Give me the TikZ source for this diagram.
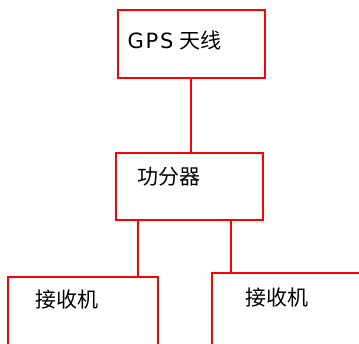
\documentclass[tikz,border=0pt]{standalone}
\usepackage{fontspec}
\setmainfont{Noto Sans CJK SC}
\newfontfamily\latinfont[LetterSpace=8]{DejaVu Sans}
\usetikzlibrary{positioning}
\begin{document}
\begin{tikzpicture}[x=1pt, y=-1pt, thick]
\tikzset{box/.style={rectangle, draw=red, line width=1.2pt, inner sep=0pt},
         wire/.style={draw=red, line width=1.2pt},
         lbl/.style={draw=none, anchor=west, font=\fontsize{21}{23}\selectfont}}
\useasboundingbox (0,0) rectangle (359,343);
\clip (0,0) rectangle (359,343);
%%%%%%%%%%%%%%%%%%%%%%%%%%%%%%% antenna and splitter
\node[box, minimum width=147pt, minimum height=68pt](ant) at (191.5,44){};
\node[lbl](antText) at (124,40){{\latinfont GPS}\hspace{6pt}天线};

\node[box, minimum width=147pt, minimum height=67pt](split) at (189.5,186.5){};
\node[lbl](splitText) at (134,177){功分器};
\coordinate (tapTop) at (191,78);
\draw[wire] (tapTop) -- (tapTop |- split.north);

%%%%%%%%%%%%%%%%%%%%%%%%%%%%%%% receivers
\node[box, minimum width=150pt, minimum height=100pt](rxA) at (83,327){};
\node[lbl](rxAText) at (32,300){接收机};

\node[box, minimum width=188pt, minimum height=100pt](rxB) at (306,323){};
\node[lbl](rxBText) at (242,298){接收机};

\coordinate (tapA) at (138,220);
\coordinate (tapB) at (231,220);
\draw[wire] (tapA) -- (tapA |- rxA.north);
\draw[wire] (tapB) -- (tapB |- rxB.north);
\end{tikzpicture}
\end{document}
